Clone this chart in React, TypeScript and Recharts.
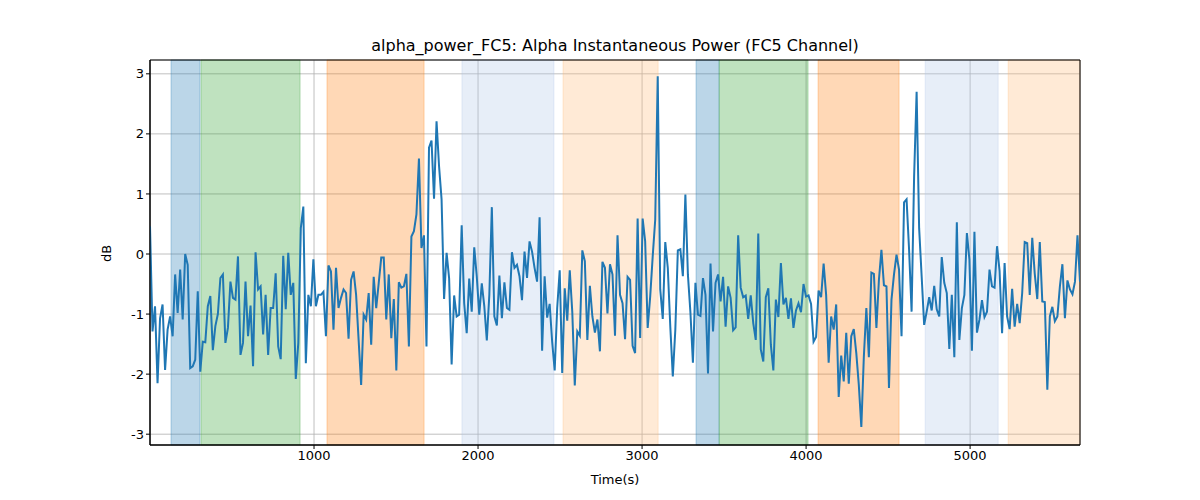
import React from "react";
import {
  CartesianGrid,
  Line,
  LineChart,
  ReferenceArea,
  XAxis,
  YAxis,
} from "recharts";

const X_MAX = 5670;

const dbValues: number[] = [
  0.46, -1.29, -0.87, -2.15, -1.07, -0.84, -1.93, -1.26, -1.04, -1.37, -0.34, -0.98, -0.26, -1.09, 0, -0.18,
  -1.9, -1.87, -1.76, -0.62, -1.96, -1.46, -1.47, -0.87, -0.7, -1.6, -1.2, -1.0, -0.4, -0.34, -1.48, -1.23,
  -0.46, -0.73, -0.76, -0.04, -1.68, -1.48, -0.46, -1.37, -0.86, -1.87, 0.03, -0.59, -0.54, -1.34, -0.68, -1.68,
  -0.9, -0.9, -0.32, -1.54, -1.75, -0.03, -0.92, 0.02, -0.68, -0.48, -2.08, -1.48, 0.43, 0.79, -1.82, -0.68,
  -0.87, -0.09, -0.87, -0.68, -0.68, -0.63, -1.37, -0.19, -0.29, -1.26, -0.23, -0.9, -0.73, -0.59, -0.65, -1.41,
  -0.43, -0.29, -0.68, -1.43, -2.18, -1.01, -1.09, -0.65, -1.51, -0.38, -0.9, -0.48, -0.06, -0.06, -1.09, -0.34,
  -1.4, -0.75, -1.94, -0.47, -0.56, -0.54, -0.33, -1.54, 0.29, 0.38, 0.66, 1.59, 0.1, 0.31, -1.54, 1.77,
  1.89, 0.92, 2.21, 1.46, 0.91, -0.75, 0.02, -0.4, -1.84, -0.69, -1.04,
  -1.01, 0.48, -0.82, -1.32, -0.41, -0.96, 0.11, -0.37, -1.01, -0.49, -0.87, -1.44, -0.68, 0.78, -1.04, -1.19,
  -0.36, -1.07, -0.47, -0.9, -0.93, 0.03, -0.23, -0.18, -0.37, -0.77, 0.04, -0.4, 0.21, 0.04, -0.23, -0.46,
  0.61, -1.61, -0.37, -1.06, -0.83, -1.46, -1.94, -0.9, -0.27, -1.98, -0.57, -1.11, -0.27, -0.96, -2.19, -1.29,
  -1.36, 0.06, -0.12, -1.43, -0.53, -1.04, -1.31, -1.09, -1.62, -0.13, -0.23, -0.99, -0.17, -0.34, -1.36, 0.31,
  -0.68, -0.82, -1.42, -0.38, -0.43, -1.53, -1.65, 0.59, -1.4, 0.59, 0.21, -1.23, -0.71, -0.04, 0.57, 2.96,
  -0.59, -1.08, 0.2, -0.23, -1.21, -2.04, -1.26, 0.06, 0.08, -0.37, 0.99, -0.34, -0.97, -1.81, -0.48, -1.01,
  -1.03, -0.4, -0.68, -1.99, -0.16, -1.29, -0.48, -0.34, -0.79, -0.38, -1.21, -0.54, -0.73, -1.27, -1.22, 0.31,
  -0.56, -0.72, -0.69, -1.08, -0.69, -1.15, -1.43, 0.34, -1.59, -1.79, -0.72, -0.57, -1.51, -1.94, -0.76,
  -1.05, -0.15, -0.84, -0.73, -1.08, -0.74, -1.23, -0.94, -0.82, -0.97, -0.5, -0.71, -0.69, -0.83, -1.46, -1.38,
  -0.61, -0.72, -0.16, -0.68, -1.81, -1.04, -1.26, -0.84, -2.38, -1.69, -2.12, -1.31, -2.16, -1.37, -1.25, -1.65,
  -2.18, -2.88, -1.71, -0.9, -1.72, -0.31, -0.33, -1.23, -0.43, 0.07, -0.52, -0.54, -2.23, -0.76, -0.34, -0.01,
  -0.26, -1.37, 0.86, 0.91, 0.07, -0.96, 1.29, 2.7, 0.43, -0.37, -1.18, -0.96, -0.72, -0.94, -0.53, -0.92,
  -1.04, -0.05, -0.48, -0.65, -1.58, -0.68, -1.72, 0.53, -1.43, -0.9, -0.68, 0.35, -0.09, -1.61, 0.37, -1.31,
  -1.09, -0.77, -1.05, -0.96, -0.26, -0.54, -0.56, 0.13, -0.28, -1.32, -0.15, -1.04, -1.25, -0.58, -1.21, -0.83,
  -1.15, -0.65, 0.2, 0.18, -0.68, 0.27, -0.33, -0.75, 0.2, -0.79, -0.8, -2.26, -1.04, -0.88, -1.12, -1.04,
  -0.54, -0.17, -1.07, -0.44, -0.59, -0.67, -0.46, 0.31, -0.46,
];

const STEP = X_MAX / (dbValues.length - 1);
const timeValues: number[] = dbValues.map((_, i) => i * STEP);

const spanStarts = [128, 311, 1079, 1902, 2518, 3329, 3470, 4073, 4726, 5232];
const spanEnds = [305, 915, 1671, 2463, 3098, 3470, 4012, 4567, 5171, 5670];
const spanColors = ["#1f77b4", "#2ca02c", "#ff7f0e", "#aec7e8", "#ffbb78", "#1f77b4", "#2ca02c", "#ff7f0e", "#aec7e8", "#ffbb78"];

const xTicks = [1000, 2000, 3000, 4000, 5000];
const yTicks = [-3, -2, -1, 0, 1, 2, 3];
const Y_MIN = -3.18;
const Y_MAX = 3.23;

const rows = timeValues.map((t, i) => ({ t, db: dbValues[i] }));

const font = "DejaVu Sans, sans-serif";
const tickStyle = { fill: "#000", fontSize: 13, fontFamily: font };

export default function App() {
  return (
    <div style={{ position: "absolute", left: 0, top: 0, width: 1200, height: 500, background: "#fff", fontFamily: font }}>
      <div style={{ position: "absolute", top: 36, width: 1230, textAlign: "center", fontSize: 16 }}>
        alpha_power_FC5: Alpha Instantaneous Power (FC5 Channel)
      </div>
      <div style={{ position: "absolute", top: 472, left: 0, width: 1230, textAlign: "center", fontSize: 13 }}>
        Time(s)
      </div>
      <div style={{ position: "absolute", left: 98, top: 246, fontSize: 13, transform: "rotate(-90deg)" }}>dB</div>
      <LineChart
        width={1200}
        height={500}
        data={rows}
        margin={{ top: 60, right: 120, bottom: 25, left: 100 }}
      >
        {spanStarts.map((s, i) => (
          <ReferenceArea
            key={i}
            x1={s}
            x2={spanEnds[i]}
            fill={spanColors[i]}
            fillOpacity={0.3}
            stroke={spanColors[i]}
            strokeOpacity={0.3}
            ifOverflow="extendDomain"
          />
        ))}
        <CartesianGrid stroke="#b0b0b0" strokeWidth={0.8} />
        <XAxis
          dataKey="t"
          type="number"
          domain={[0, X_MAX]}
          ticks={xTicks}
          tick={tickStyle}
          tickSize={4}
          height={30}
          stroke="#000"
          allowDataOverflow
        />
        <YAxis
          type="number"
          domain={[Y_MIN, Y_MAX]}
          ticks={yTicks}
          tick={tickStyle}
          tickSize={4}
          width={50}
          stroke="#000"
          allowDataOverflow
        />
        <Line
          type="linear"
          dataKey="db"
          stroke="#1f77b4"
          strokeWidth={2}
          dot={false}
          isAnimationActive={false}
        />
        <ReferenceArea x1={0} x2={X_MAX} y1={Y_MIN} y2={Y_MAX} fill="none" stroke="#000" strokeWidth={1} />
      </LineChart>
    </div>
  );
}
